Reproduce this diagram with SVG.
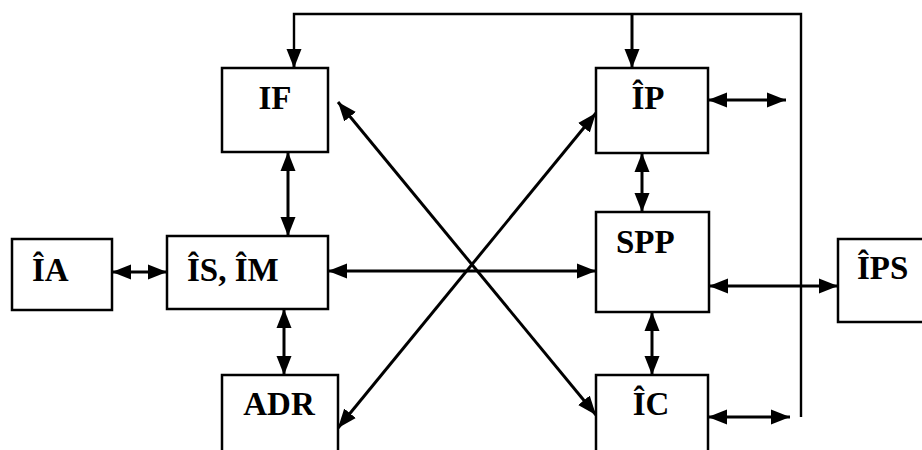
<svg xmlns="http://www.w3.org/2000/svg" width="922" height="450" viewBox="0 0 922 450">
<style>
.box{fill:#fff;stroke:#000;stroke-width:2.5}
.lbl{font-family:"Liberation Serif","Times New Roman",serif;font-weight:bold;font-size:33px;fill:#000}
.c{fill:none;stroke:#000;stroke-width:3}
.t{fill:none;stroke:#000;stroke-width:2.4}
</style>
<defs>
<marker id="ah" markerUnits="userSpaceOnUse" markerWidth="20" markerHeight="16" refX="19" refY="8" orient="auto-start-reverse" viewBox="0 0 20 16">
<path d="M0,0.5 L19,8 L0,15.5 z" fill="#000"/>
</marker>
</defs>
<rect width="922" height="450" fill="#fff"/>
<g id="connectors">
<polyline class="t" points="801,417 801,14 294,14 294,56"/>
<line class="c" x1="294" y1="50" x2="294" y2="68" marker-end="url(#ah)"/>
<line class="c" x1="632" y1="14" x2="632" y2="68" marker-end="url(#ah)"/>
<line class="c" x1="708" y1="100" x2="786" y2="100" marker-start="url(#ah)" marker-end="url(#ah)"/>
<line class="c" x1="288" y1="152" x2="288" y2="236" marker-start="url(#ah)" marker-end="url(#ah)"/>
<line class="c" x1="642" y1="153" x2="642" y2="212" marker-start="url(#ah)" marker-end="url(#ah)"/>
<line class="c" x1="112" y1="272" x2="167" y2="272" marker-start="url(#ah)" marker-end="url(#ah)"/>
<line class="c" x1="328" y1="271" x2="596" y2="271" marker-start="url(#ah)" marker-end="url(#ah)"/>
<line class="c" x1="709" y1="286" x2="838" y2="286" marker-start="url(#ah)" marker-end="url(#ah)"/>
<line class="c" x1="284" y1="309" x2="284" y2="375" marker-start="url(#ah)" marker-end="url(#ah)"/>
<line class="c" x1="652" y1="312" x2="652" y2="375" marker-start="url(#ah)" marker-end="url(#ah)"/>
<line class="c" x1="708" y1="417" x2="790" y2="417" marker-start="url(#ah)" marker-end="url(#ah)"/>
<line class="c" x1="338" y1="102" x2="596" y2="415" marker-start="url(#ah)" marker-end="url(#ah)"/>
<line class="c" x1="338" y1="428" x2="596" y2="113" marker-start="url(#ah)" marker-end="url(#ah)"/>
</g>
<g id="node-IF"><rect class="box" x="222" y="68" width="106" height="84"/><text class="lbl" x="275" y="109" text-anchor="middle">IF</text></g>
<g id="node-IP"><rect class="box" x="596" y="68" width="112" height="85"/><text class="lbl" x="648" y="109" text-anchor="middle">ÎP</text></g>
<g id="node-IA"><rect class="box" x="12" y="239" width="100" height="71"/><text class="lbl" x="32" y="281">ÎA</text></g>
<g id="node-ISIM"><rect class="box" x="167" y="236" width="161" height="73"/><text class="lbl" x="187" y="281">ÎS, ÎM</text></g>
<g id="node-SPP"><rect class="box" x="596" y="212" width="113" height="100"/><text class="lbl" x="616" y="253">SPP</text></g>
<g id="node-IPS"><rect class="box" x="838" y="239" width="100" height="83"/><text class="lbl" x="857" y="279">ÎPS</text></g>
<g id="node-ADR"><rect class="box" x="222" y="375" width="116" height="90"/><text class="lbl" x="279" y="415" text-anchor="middle">ADR</text></g>
<g id="node-IC"><rect class="box" x="596" y="375" width="112" height="90"/><text class="lbl" x="651" y="415" text-anchor="middle">ÎC</text></g>
</svg>
